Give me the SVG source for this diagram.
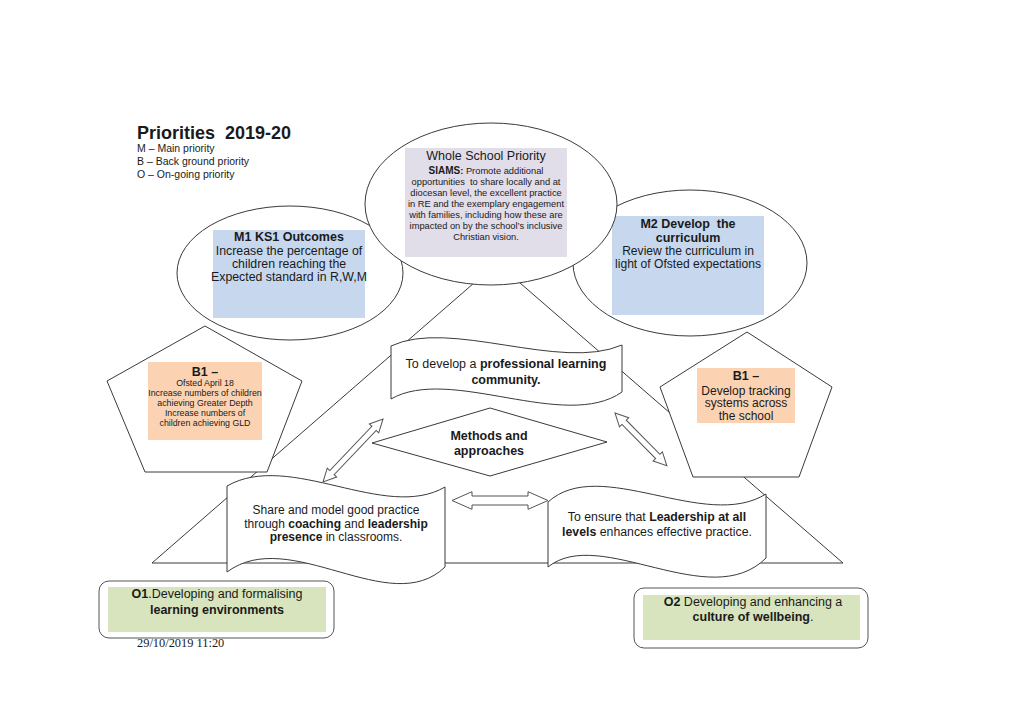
<svg xmlns="http://www.w3.org/2000/svg" width="1024" height="724" viewBox="0 0 1024 724">
<style>
text{font-family:"Liberation Sans",Arial,sans-serif;fill:#1a1a1a}
.ln{fill:#fff;stroke:#3a3a3a;stroke-width:1}
.b{font-weight:bold}
.c{text-anchor:middle}
.lav{fill:#e1dde9}
.blu{fill:#c6d7ee}
.pch{fill:#fbd3b3}
.grn{fill:#d7e4bd}
.arr{fill:#fff;stroke:#555;stroke-width:1}
</style>
<rect width="1024" height="724" fill="#fff"/>

<g id="title">
<text x="137" y="139" font-size="18" class="b" xml:space="preserve">Priorities  2019-20</text>
<text x="137" y="152" font-size="10.5">M – Main priority</text>
<text x="137" y="165" font-size="10.5">B – Back ground priority</text>
<text x="137" y="178" font-size="10.5">O – On-going priority</text>
</g>

<g id="triangle">
<polygon points="497,263 843,563 152,563" style="fill:none;stroke:#3a3a3a;stroke-width:1"/>
</g>

<g id="m1">
<ellipse class="ln" cx="290" cy="273" rx="113" ry="67"/>
<rect class="blu" x="213" y="230" width="152" height="88"/>
<text x="289" y="241" font-size="12.5" class="b c">M1 KS1 Outcomes</text>
<text x="289" y="255" font-size="12.3" class="c">Increase the percentage of</text>
<text x="289" y="268" font-size="12.3" class="c">children reaching the</text>
<text x="289" y="281" font-size="12.3" class="c">Expected standard in R,W,M</text>
</g>

<g id="m2">
<ellipse class="ln" cx="690" cy="263" rx="117" ry="73"/>
<rect class="blu" x="612" y="216" width="152" height="99"/>
<text x="688" y="228" font-size="12.5" class="b c" xml:space="preserve">M2 Develop  the</text>
<text x="688" y="242" font-size="12.5" class="b c">curriculum</text>
<text x="688" y="255" font-size="12.1" class="c">Review the curriculum in</text>
<text x="688" y="268" font-size="12.1" class="c">light of Ofsted expectations</text>
</g>

<g id="whole-school">
<ellipse class="ln" cx="491" cy="204" rx="126" ry="81"/>
<rect class="lav" x="405" y="148" width="162" height="109"/>
<text x="486" y="160" font-size="12.5" class="c">Whole School Priority</text>
<text x="486" y="174" font-size="9.3" class="c"><tspan class="b" font-size="10">SIAMS</tspan><tspan class="b">:</tspan> Promote additional</text>
<text x="486" y="185" font-size="9.3" class="c" xml:space="preserve">opportunities  to share locally and at</text>
<text x="486" y="196" font-size="9.3" class="c">diocesan level, the excellent practice</text>
<text x="486" y="207" font-size="9.3" class="c">in RE and the exemplary engagement</text>
<text x="486" y="218" font-size="9.3" class="c">with families, including how these are</text>
<text x="486" y="229" font-size="9.3" class="c">impacted on by the school’s inclusive</text>
<text x="486" y="240" font-size="9.3" class="c">Christian vision.</text>
</g>

<g id="b1-left">
<polygon class="ln" points="205,326 302,381 267,472 145,472 107,381"/>
<rect class="pch" x="148" y="362" width="114" height="78"/>
<text x="205" y="376" font-size="12.5" class="b c">B1 –</text>
<text x="205" y="386" font-size="8.8" class="c">Ofsted April 18</text>
<text x="205" y="396" font-size="8.8" class="c">Increase numbers of children</text>
<text x="205" y="406" font-size="8.8" class="c">achieving Greater Depth</text>
<text x="205" y="416" font-size="8.8" class="c">Increase numbers of</text>
<text x="205" y="426" font-size="8.8" class="c">children achieving GLD</text>
</g>

<g id="b1-right">
<polygon class="ln" points="747,332 832,387 799,477 693,477 660,387"/>
<rect class="pch" x="697" y="368" width="98" height="55"/>
<text x="746" y="380" font-size="12.5" class="b c">B1 –</text>
<text x="746" y="395" font-size="12" class="c">Develop tracking</text>
<text x="746" y="407" font-size="12" class="c">systems across</text>
<text x="746" y="420" font-size="12" class="c">the school</text>
</g>

<g id="plc">
<path class="ln" d="M391,346 C450,318 560,372 622,345 L622,392 C565,432 450,365 391,399 Z"/>
<text x="506" y="368" font-size="12.5" class="c">To develop a <tspan class="b">professional learning</tspan></text>
<text x="506" y="384" font-size="12.5" class="b c">community.</text>
</g>

<g id="methods">
<polygon class="ln" points="372,443 490,408 607,442 490,476"/>
<text x="489" y="440" font-size="12.5" class="b c">Methods and</text>
<text x="489" y="455" font-size="12.5" class="b c">approaches</text>
</g>

<g id="share">
<path class="ln" d="M227,486 C290,450 385,522 445,487 L445,567 C390,620 290,525 227,572 Z"/>
<text x="336" y="514" font-size="12" class="c">Share and model good practice</text>
<text x="336" y="528" font-size="12" class="c">through <tspan class="b">coaching</tspan> and <tspan class="b">leadership</tspan></text>
<text x="336" y="541" font-size="12" class="c"><tspan class="b">presence</tspan> in classrooms.</text>
</g>

<g id="leadership">
<path class="ln" d="M548,502 C600,455 705,532 766,494 L766,558 C710,614 600,525 548,567 Z"/>
<text x="657" y="521" font-size="12.3" class="c">To ensure that <tspan class="b">Leadership at all</tspan></text>
<text x="657" y="536" font-size="12.3" class="c"><tspan class="b">levels</tspan> enhances effective practice.</text>
</g>

<g id="connectors">
<polygon class="arr" transform="translate(383,419) rotate(133.6)" points="0,0 13,-6.5 13,-3 74,-3 74,-6.5 87,0 74,6.5 74,3 13,3 13,6.5"/>
<polygon class="arr" transform="translate(615,413) rotate(45.5)" points="0,0 13,-6.5 13,-3 61,-3 61,-6.5 74,0 61,6.5 61,3 13,3 13,6.5"/>
<polygon class="arr" points="452,500.5 472,491.7 472,496 528,496 528,491.7 548,500.5 528,509.3 528,505 472,505 472,509.3"/>
</g>

<g id="o1">
<rect class="ln" x="99" y="581" width="235" height="57" rx="10" style="stroke:#555"/>
<rect class="grn" x="108" y="587" width="218" height="45"/>
<text x="217" y="598" font-size="12.5" class="c"><tspan class="b">O1</tspan>.Developing and formalising</text>
<text x="217" y="614" font-size="12.5" class="b c">learning environments</text>
</g>

<g id="o2">
<rect class="ln" x="634" y="588" width="234" height="60" rx="10" style="stroke:#555"/>
<rect class="grn" x="643" y="595" width="217" height="45"/>
<text x="753" y="606" font-size="12.5" class="c"><tspan class="b">O2</tspan> Developing and enhancing a</text>
<text x="753" y="621" font-size="12.5" class="c"><tspan class="b">culture of wellbeing</tspan>.</text>
</g>

<text x="137" y="647" font-size="12.4" style="font-family:'Liberation Serif','Times New Roman',serif">29/10/2019 11:20</text>
</svg>
